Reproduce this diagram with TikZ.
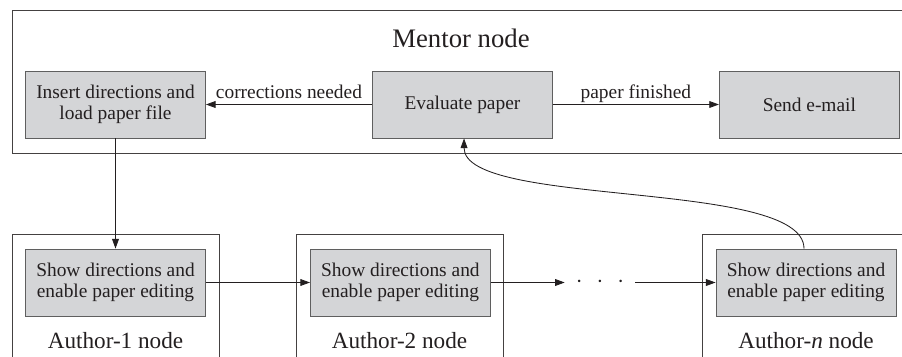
\documentclass[tikz,border=0pt]{standalone}
\usepackage{fontspec}
\setmainfont{Liberation Serif}
\usetikzlibrary{positioning}
\usetikzlibrary{arrows.meta}

\definecolor{boxfill}{RGB}{212,213,215}
\definecolor{boxline}{RGB}{95,95,95}
\definecolor{ink}{RGB}{35,31,32}

\begin{document}
\begin{tikzpicture}[x=0.025cm, y=0.025cm,
    task/.style={draw=boxline, fill=boxfill, rectangle, line width=0.6pt,
        minimum width=4.5cm, minimum height=1.675cm, inner sep=0pt,
        align=center, text=ink, font=\fontsize{13.8}{14.5}\selectfont},
    frame/.style={draw=ink!85, line width=0.6pt},
    title/.style={text=ink, anchor=base, inner sep=0pt, font=\fontsize{19}{22}\selectfont},
    author/.style={text=ink, anchor=base, inner sep=0pt, font=\fontsize{16.5}{19}\selectfont},
    edgelabel/.style={text=ink, anchor=base, inner sep=0pt, yshift=4.3pt,
        font=\fontsize{13.8}{14.5}\selectfont},
    link/.style={draw=ink, line width=0.6pt, -{Triangle[length=2.4mm, width=1.7mm]}}
]

    \useasboundingbox (0,0) rectangle (902,356);
    \clip (0,0) rectangle (902,356);

    % frames
    \draw[frame] (12,203) rectangle (920,346);
    \draw[frame] (12,-20) rectangle (219,122);
    \draw[frame] (296,-20) rectangle (503,122);
    \draw[frame] (702,-20) rectangle (920,122);

    \node[title] (mentor) at (461,308) {Mentor node};

    \node[task] (insert) at (115.5,251.5) {Insert directions and\\load paper file};
    \node[task, right=4.15cm of insert] (evaluate) {Evaluate paper};
    \node[task, right=4.15cm of evaluate] (email) {Send e-mail};

    \node[task] (show1) at (115.5,73.5) {Show directions and\\enable paper editing};
    \node[task, right=2.6cm of show1] (show2) {Show directions and\\enable paper editing};
    \node[task] (shown) at (806,73.5) {Show directions and\\enable paper editing};
    \node[text=ink, minimum width=1.75cm, inner sep=0pt, font=\fontsize{16}{16}\selectfont] (dots) at (600,73.5)
        {$\cdot$\hspace{10pt}$\cdot$\hspace{10pt}$\cdot$};

    \node[author] (author1) at (115.5,8) {Author-1 node};
    \node[author] (author2) at (399.5,8) {Author-2 node};
    \node[author] (authorn) at (806,8) {Author-\textit{n} node};

    \draw[link] (evaluate) -- node[edgelabel] {corrections needed} (insert);
    \draw[link] (evaluate) -- node[edgelabel] {paper finished} (email);
    \draw[link] (insert) -- (show1);
    \draw[link] (show1) -- (show2);
    \draw[link] (show2) -- (dots.west);
    \draw[link] (dots.east) -- (shown);
    \draw[link] ([xshift=-0.05cm]shown.north) to[out=90, in=-90, looseness=0.5] ([xshift=0.04cm]evaluate.south);

\end{tikzpicture}
\end{document}
